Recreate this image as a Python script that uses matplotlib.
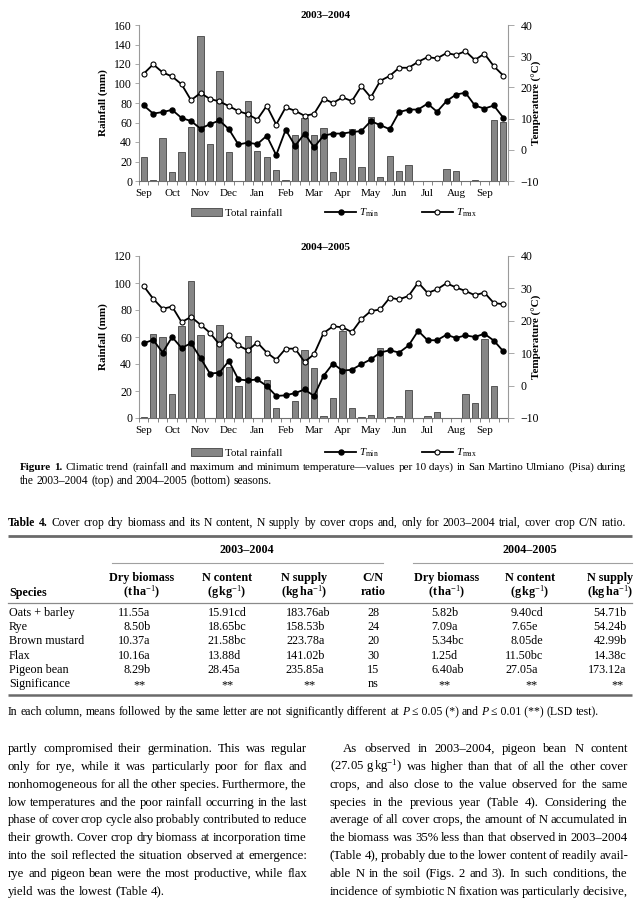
import math
import matplotlib
matplotlib.use('Agg')
import matplotlib.pyplot as plt
import numpy as np
from matplotlib.font_manager import fontManager, get_font
from matplotlib.backends.backend_agg import get_hinting_flag

plt.rcParams['font.family'] = ['Liberation Serif', 'DejaVu Serif']
plt.rcParams['mathtext.fontset'] = 'custom'
plt.rcParams['mathtext.rm'] = 'Liberation Serif'
plt.rcParams['mathtext.it'] = 'Liberation Serif:italic'
plt.rcParams['mathtext.bf'] = 'Liberation Serif:bold'

# ---------------- data ----------------
months = ['Sep', 'Oct', 'Nov', 'Dec', 'Jan', 'Feb', 'Mar', 'Apr', 'May',
          'Jun', 'Jul', 'Aug', 'Sep']

rain_0304 = [25, 1, 44, 9, 29.5, 55, 149, 38, 112.5, 29.5, 0, 82, 30.5, 24.5,
             11.5, 1, 47.5, 65, 47.5, 54, 9, 23.5, 53.5, 14, 66, 4, 25.7, 10.3,
             16.5, 0.5, 0.5, 0.5, 12, 10.5, 0.5, 1, 0.5, 63, 60.5]
tmin_0304 = [14.2, 11.6, 12.1, 12.8, 10.2, 9.2, 6.8, 8.2, 9.4, 6.6, 1.7, 2.3,
             1.8, 4.5, -1.7, 6.4, 1.3, 5.2, 0.8, 4.5, 5.2, 5.2, 5.7, 6.0, 9.2,
             7.9, 6.6, 12.1, 12.9, 12.9, 14.8, 12.2, 15.6, 17.7, 18.3, 14.2,
             13.2, 14.2, 10.3]
tmax_0304 = [24.4, 27.4, 24.8, 23.5, 21.0, 15.9, 18.2, 16.3, 15.5, 14.0, 12.4,
             11.4, 9.7, 14.1, 8.1, 13.6, 12.5, 10.9, 11.5, 16.4, 15.0, 16.8,
             15.6, 20.4, 16.8, 22.1, 23.7, 26.3, 26.3, 28.2, 29.7, 29.3, 31.0,
             30.4, 31.6, 28.8, 30.8, 26.8, 23.8]

rain_0405 = [1, 62.5, 60, 18, 68.5, 101.5, 61.5, 0, 69, 38, 23.5, 60.7, 0, 28,
             7.7, 0, 12.8, 50.6, 37.3, 1.5, 15, 64.2, 7.7, 0.5, 2.5, 52, 0.5,
             1.5, 20.5, 0, 1.5, 4.2, 0.3, 0.3, 17.5, 11, 58.3, 23.5, 0]
tmin_0405 = [13.1, 14.1, 10.2, 15.0, 11.6, 13.1, 8.5, 3.7, 4.0, 7.6, 1.9, 1.6,
             1.9, -0.1, -3.2, -3.0, -2.3, -1.2, -3.2, 3.0, 6.8, 4.6, 4.9, 6.6,
             8.1, 10.2, 10.9, 10.2, 12.4, 16.9, 14.0, 14.0, 15.7, 14.7, 15.5,
             15.0, 16.0, 13.9, 10.6]
tmax_0405 = [30.7, 26.8, 23.7, 24.4, 19.6, 21.2, 18.8, 16.3, 12.7, 15.5, 12.4,
             10.9, 13.3, 10.2, 8.0, 11.4, 11.4, 7.3, 9.7, 16.2, 18.3, 18.0,
             16.5, 20.5, 23.0, 23.5, 27.1, 26.6, 27.7, 31.8, 28.6, 29.7, 31.6,
             30.3, 29.2, 27.9, 28.7, 25.5, 25.1]

species = ['Oats + barley', 'Rye', 'Brown mustard', 'Flax', 'Pigeon bean', 'Significance']
dm03 = ['11.55a', '8.50b', '10.37a', '10.16a', '8.29b', '**']
nc03 = ['15.91cd', '18.65bc', '21.58bc', '13.88d', '28.45a', '**']
ns03 = ['183.76ab', '158.53b', '223.78a', '141.02b', '235.85a', '**']
cn03 = ['28', '24', '20', '30', '15', 'ns']
dm04 = ['5.82b', '7.09a', '5.34bc', '1.25d', '6.40ab', '**']
nc04 = ['9.40cd', '7.65e', '8.05de', '11.50bc', '27.05a', '**']
ns04 = ['54.71b', '54.24b', '42.99b', '14.38c', '173.12a', '**']

# ---------------- figure ----------------
W, H = 640, 900
fig = plt.figure(figsize=(6.4, 9), dpi=100)
fig.patch.set_facecolor('white')

pg = fig.add_axes([0, 0, 1, 1])
pg.set_xlim(0, W)
pg.set_ylim(H, 0)
pg.axis('off')
pg.patch.set_visible(False)


def rect(l, t, r, b):
    return [l / W, 1 - b / H, (r - l) / W, (b - t) / H]


GREY = '#9a9a9a'


def climate(box, title, title_y, rain, tmin, tmax, ymax, legend_y):
    ax = fig.add_axes(rect(*box))
    x = np.arange(len(rain))
    bars = ax.bar(x, rain, width=0.68, color='#868686', edgecolor='#444444',
                  linewidth=0.6, zorder=2)
    ax.set_xlim(-0.5, len(rain) - 0.5)
    ax.set_ylim(0, ymax)
    ax.set_yticks(np.arange(0, ymax + 1, 20))
    ax.set_xticks(np.arange(0, len(rain), 3))
    ax.set_xticklabels(months)
    ax.set_xticks(np.arange(-0.5, len(rain), 1), minor=True)
    ax.tick_params(axis='x', which='major', length=0, pad=5.5, labelsize=8)
    ax.tick_params(axis='x', which='minor', length=3, width=0.6, color='#707070')
    ax.tick_params(axis='y', length=3, width=0.6, color=GREY, pad=2, labelsize=8.5)
    ax.spines['top'].set_visible(False)
    ax.spines['left'].set_color(GREY)
    ax.spines['right'].set_visible(False)
    ax.spines['bottom'].set_color('#707070')

    ax2 = ax.twinx()
    l1, = ax2.plot(x, tmin, '-o', color='black', lw=1.3, ms=3.6, mfc='black',
                   mec='black', zorder=3)
    l2, = ax2.plot(x, tmax, '-o', color='black', lw=1.3, ms=3.6, mfc='white',
                   mec='black', mew=0.8, zorder=3)
    ax2.set_ylim(-10, 40)
    ax2.set_yticks(range(-10, 41, 10))
    ax2.tick_params(axis='y', length=4, width=0.6, color=GREY, pad=5, labelsize=8.5)
    ax2.spines['top'].set_visible(False)
    ax2.spines['left'].set_visible(False)
    ax2.spines['bottom'].set_visible(False)
    ax2.spines['right'].set_color(GREY)

    l, t, r, b = box
    pg.text((l + r) / 2 + 2, title_y, title, ha='center', va='center',
            fontsize=8, fontweight='bold')
    pg.text(103, (t + b) / 2, 'Rainfall (mm)', rotation=90, ha='center',
            va='center', fontsize=8, fontweight='bold')
    pg.text(537, (t + b) / 2, 'Temperature (°C)', rotation=90, ha='center',
            va='center', fontsize=8, fontweight='bold')
    fig.legend([bars, l1, l2], ['Total rainfall', r'$T_{\rm min}$', r'$T_{\rm max}$'],
               loc='center', bbox_to_anchor=(334 / W, 1 - legend_y / H), ncol=3,
               frameon=False, fontsize=7.8, handlelength=2.8, columnspacing=4.0,
               handletextpad=0.3, borderaxespad=0)


climate((139, 25, 508, 181), '2003–2004', 15, rain_0304, tmin_0304, tmax_0304, 160, 213)
climate((139, 256, 508, 418), '2004–2005', 248, rain_0405, tmin_0405, tmax_0405, 120, 453)

# ---------------- text helpers ----------------
def rend():
    return fig.canvas.get_renderer()


def width(t):
    return t.get_window_extent(rend()).width


def agg_err(t, Y):
    """Integer row error of the Agg glyph baseline for a text whose baseline is Y."""
    try:
        s = t.get_text()
        if '$' in s or not s.strip():
            return 0
        prop = t.get_fontproperties()
        font = get_font(fontManager._find_fonts_by_props(prop))
        font.clear()
        font.set_size(prop.get_size_in_points(), fig.dpi)
        font.set_text(s, 0, flags=get_hinting_flag())
        w, h = font.get_width_height()
        d = font.get_descent()
        A = (h - d) / 64.0
        D = d / 64.0
        return int(round(Y + 0.01 + D) - Y - (int(h) // 64) + math.floor(A))
    except Exception:
        return 0


def bl_text(x, y, s, **kw):
    Y = int(round(y))
    t = pg.text(x, Y, s, va='baseline', **kw)
    t.set_y(Y - agg_err(t, Y) + 0.01)
    return t


def word_line(words, x0, x1, yc, size, justify, min_gap):
    Y = int(round(yc + 0.3 * size * 100 / 72))
    arts = []
    for w in words:
        s, kw = (w if isinstance(w, tuple) else (w, {}))
        d = dict(fontsize=size, va='baseline', ha='left')
        d.update(kw)
        arts.append(pg.text(0, Y, s.replace('~', ' '), **d))
    fs = size
    for _ in range(12):
        ws = [width(a) for a in arts]
        if justify and len(arts) > 1:
            gap = (x1 - x0 - sum(ws)) / (len(arts) - 1)
            if gap < min_gap:
                fs *= 0.98
                for a in arts:
                    a.set_fontsize(fs)
                continue
        else:
            gap = fs * 100 / 72 * 0.25
        break
    x = x0
    for a, w in zip(arts, ws):
        a.set_x(x)
        x += w + gap
        a.set_y(Y - agg_err(a, Y) + 0.01)


def tokens(line):
    if isinstance(line, str):
        return line.split(' ')
    return line


def para(lines, x0, x1, y0, dy, size, justify_last=False, indents=None, min_gap=2.0):
    for i, l in enumerate(lines):
        ind = indents[i] if indents else 0
        last = (i == len(lines) - 1) and not justify_last
        word_line(tokens(l), x0 + ind, x1, y0 + i * dy, size, not last, min_gap)


B = {'fontweight': 'bold'}
I = {'fontstyle': 'italic'}

# ---------------- figure caption ----------------
cap1 = [('Figure', B), ('1.', B)] + ('Climatic trend (rainfall and maximum and minimum '
        'temperature—values per 10~days) in San Martino Ulmiano (Pisa) during').split(' ')
cap2 = 'the 2003–2004 (top) and 2004–2005 (bottom) seasons.'
para([cap1, cap2], 20, 626, 467, 13.5, 8.3, min_gap=2.4)

# ---------------- table ----------------
tcap = [('Table', B), ('4.', B)] + ('Cover crop dry biomass and its N content, N supply by '
        'cover crops and, only for 2003–2004 trial, cover crop C/N ratio.').split(' ')
para([tcap], 8, 626, 523, 14, 8.4, justify_last=True, min_gap=2.6)

pg.plot([8, 632], [536, 536], color='#6a6a6a', lw=2.0, solid_capstyle='butt')
pg.plot([112, 383], [563, 563], color='#a0a0a0', lw=0.8)
pg.plot([413, 632], [563, 563], color='#a0a0a0', lw=0.8)
pg.plot([8, 632], [603, 603], color='#8a8a8a', lw=0.9)
pg.plot([8, 632], [695, 695], color='#6a6a6a', lw=1.8, solid_capstyle='butt')

TS = 8.7
pg.text(247, 550, '2003–2004', ha='center', va='center', fontsize=TS, fontweight='bold')
pg.text(530, 550, '2004–2005', ha='center', va='center', fontsize=TS, fontweight='bold')
pg.text(9, 593, 'Species', ha='left', va='center', fontsize=TS, fontweight='bold')

heads = [(142, 'Dry biomass', r'(t$\,$ha$^{-1}$)'),
         (227, 'N content', r'(g$\,$kg$^{-1}$)'),
         (304, 'N supply', r'(kg$\,$ha$^{-1}$)'),
         (373, 'C/N', 'ratio'),
         (447, 'Dry biomass', r'(t$\,$ha$^{-1}$)'),
         (530, 'N content', r'(g$\,$kg$^{-1}$)'),
         (610, 'N supply', r'(kg$\,$ha$^{-1}$)')]
for xc, h1, h2 in heads:
    pg.text(xc, 578, h1, ha='center', va='center', fontsize=TS, fontweight='bold')
    pg.text(xc, 592, h2, ha='center', va='center', fontsize=TS, fontweight='bold')

row_y = [613, 627, 641, 656, 670, 684]
cols = [(dm03, 130, 140), (nc03, 220, 228), (ns03, 304, 310),
        (dm04, 437, 445), (nc04, 517, 532), (ns04, 606, 618)]
for i, y in enumerate(row_y):
    yb = y + 3.3
    bl_text(9, yb, species[i], ha='left', fontsize=TS)
    for vals, xd, xs in cols:
        v = vals[i]
        if '.' in v:
            frac = v[v.index('.'):]
            t = bl_text(0, yb, v, ha='left', fontsize=TS)
            tf = pg.text(0, yb, frac, ha='left', va='baseline', fontsize=TS)
            adv = width(t) - width(tf)
            tf.remove()
            t.set_x(xd - adv)
        else:
            bl_text(xs, yb + 1.5, v, ha='center', fontsize=TS)
    bl_text(373, yb, cn03[i], ha='center', fontsize=TS)

foot = ('In each column, means followed by the same letter are not significantly '
        'different at').split(' ') + [('P', I), '≤~0.05~(*)', 'and', ('P', I),
                                       '≤~0.01~(**)', '(LSD', 'test).']
para([foot], 8, 632, 711, 14, 8.45)

# ---------------- body text ----------------
left = ['partly compromised their germination. This was regular',
        'only for rye, while it was particularly poor for flax and',
        'nonhomogeneous for all the other species. Furthermore, the',
        'low temperatures and the poor rainfall occurring in the last',
        'phase of cover crop cycle also probably contributed to reduce',
        'their growth. Cover crop dry biomass at incorporation time',
        'into the soil reflected the situation observed at emergence:',
        'rye and pigeon bean were the most productive, while flax',
        'yield was the lowest (Table 4).']
right = ['As observed in 2003–2004, pigeon bean N content',
         r'(27.05~g$\,$kg$^{-1}$) was higher than that of all the other cover',
         'crops, and also close to the value observed for the same',
         'species in the previous year (Table 4). Considering the',
         'average of all cover crops, the amount of N accumulated in',
         'the biomass was 35% less than that observed in 2003–2004',
         '(Table 4), probably due to the lower content of readily avail-',
         'able N in the soil (Figs. 2 and 3). In such conditions, the',
         'incidence of symbiotic N fixation was particularly decisive,']
para(left, 8, 307, 748, 17.9, 9.2, min_gap=1.8)
para(right, 330, 628, 748, 17.9, 9.2, justify_last=True, min_gap=1.8,
     indents=[13, 0, 0, 0, 0, 0, 0, 0, 0])

fig.savefig('out.png', dpi=100, facecolor='white')
